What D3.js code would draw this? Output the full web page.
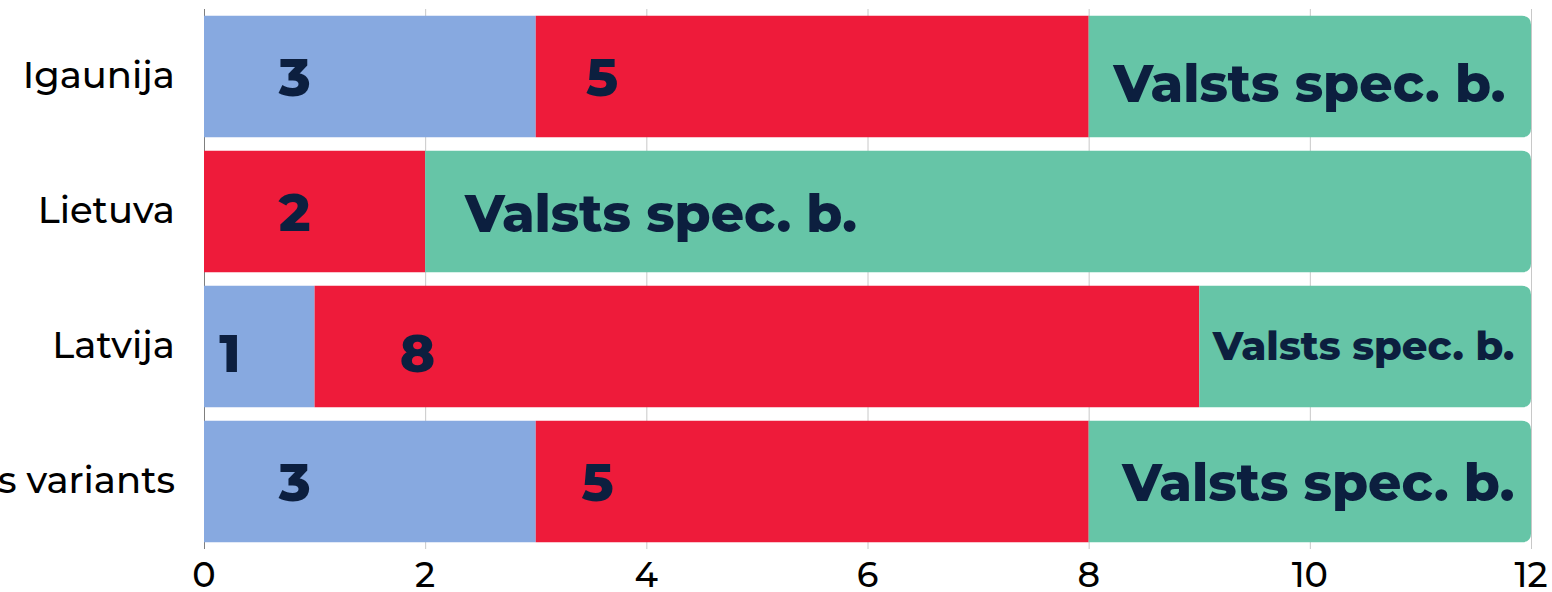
<!DOCTYPE html>
<html><head><meta charset="utf-8">
<script src="https://cdn.jsdelivr.net/npm/d3@7"></script>
<style>
html,body{margin:0;padding:0;background:#fff;}
svg{display:block;}
</style></head>
<body>
<svg id="chart" width="1552" height="592"></svg>
<script>
// ---- data ----
const categories = ["Igaunija", "Lietuva", "Latvija", "Piedāvātais variants"];
const seriesNames = ["A", "B", "Valsts spec. b."];
const seriesA = [3, 0, 1, 3];
const seriesB = [5, 2, 8, 5];
const seriesC = [4, 10, 3, 4];
const xTicks = [0, 2, 4, 6, 8, 10, 12];
// text shown inside segments
const segmentText = [["3", "5", "Valsts spec. b."], ["", "2", "Valsts spec. b."], ["1", "8", "Valsts spec. b."], ["3", "5", "Valsts spec. b."]];

// ---- annotation layout (data units along x) ----
const digitAt = [[0.82, 3.6], [null, 0.82], [0.235, 1.93], [0.82, 3.56]];
const greenAnchor = [["end", 11.77], ["start", 2.36], ["end", 11.85], ["end", 11.85]];
const greenSize = [52, 52, 40, 52];
const greenDy = [25, 20, 13, 19];
const digitDy = [19, 19, 25, 19];

const colors = ["#87A9E0", "#EE1B3A", "#66C5A7"];
const textColor = "#0C1F3F";

const svg = d3.select("#chart");
const x = d3.scaleLinear().domain([0, 12]).range([204, 1531]);
const y = d3.scaleBand().domain(categories).range([9, 549]).paddingInner(0.1).paddingOuter(0.05);

const rows = categories.map((c, i) => ({cat: c, vals: [seriesA[i], seriesB[i], seriesC[i]]}));

// grid
svg.append("g").selectAll("line").data(xTicks.filter(t => t > 0)).join("line")
  .attr("x1", d => x(d) + 0.5).attr("x2", d => x(d) + 0.5)
  .attr("y1", y.range()[0]).attr("y2", y.range()[1])
  .attr("stroke", "#C8C8C8").attr("stroke-width", 1);
// left axis line
svg.append("line").attr("x1", x(0) + 0.5).attr("x2", x(0) + 0.5)
  .attr("y1", y.range()[0]).attr("y2", y.range()[1])
  .attr("stroke", "#7F7F7F").attr("stroke-width", 1);

function segPath(x0, x1, y0, h, r) {
  if (r <= 0) return `M${x0},${y0}H${x1}V${y0 + h}H${x0}Z`;
  return `M${x0},${y0}H${x1 - r}Q${x1},${y0} ${x1},${y0 + r}V${y0 + h - r}Q${x1},${y0 + h} ${x1 - r},${y0 + h}H${x0}Z`;
}

const g = svg.append("g");
rows.forEach((row, i) => {
  let acc = 0;
  const yy = y(row.cat), h = y.bandwidth();
  row.vals.forEach((v, k) => {
    if (v > 0) {
      const last = k === row.vals.length - 1;
      g.append("path")
        .attr("d", segPath(x(acc), x(acc + v), yy, h, last ? 9 : 0))
        .attr("fill", colors[k]);
    }
    acc += v;
  });
});

// category labels
svg.append("g").selectAll("text").data(categories).join("text")
  .attr("x", 175).attr("y", d => y(d) + y.bandwidth() / 2 + 11)
  .attr("text-anchor", "end")
  .attr("font-family", "Montserrat, 'Noto Sans', sans-serif")
  .attr("font-weight", 500)
  .attr("font-size", 37).attr("fill", "#000")
  .text(d => d);

// x tick labels
svg.append("g").selectAll("text").data(xTicks).join("text")
  .attr("x", d => x(d)).attr("y", 587)
  .attr("text-anchor", "middle")
  .attr("font-family", "Montserrat, 'Noto Sans', sans-serif")
  .attr("font-weight", 500)
  .attr("font-size", 35).attr("fill", "#000")
  .text(d => d);

// segment texts
const lab = svg.append("g").attr("font-family", "Montserrat, 'Open Sans', sans-serif").attr("font-weight", 800).attr("fill", textColor);
rows.forEach((row, i) => {
  const cy = y(row.cat) + y.bandwidth() / 2;
  [0, 1].forEach(k => {
    const t = segmentText[i][k];
    if (!t || digitAt[i][k] == null) return;
    lab.append("text").attr("x", x(digitAt[i][k])).attr("y", cy + digitDy[i])
      .attr("text-anchor", "middle").attr("font-size", 53).text(t);
  });
  lab.append("text").attr("x", x(greenAnchor[i][1])).attr("y", cy + greenDy[i])
    .attr("text-anchor", greenAnchor[i][0]).attr("font-size", greenSize[i])
    .text(segmentText[i][2]);
});
</script>
</body></html>
